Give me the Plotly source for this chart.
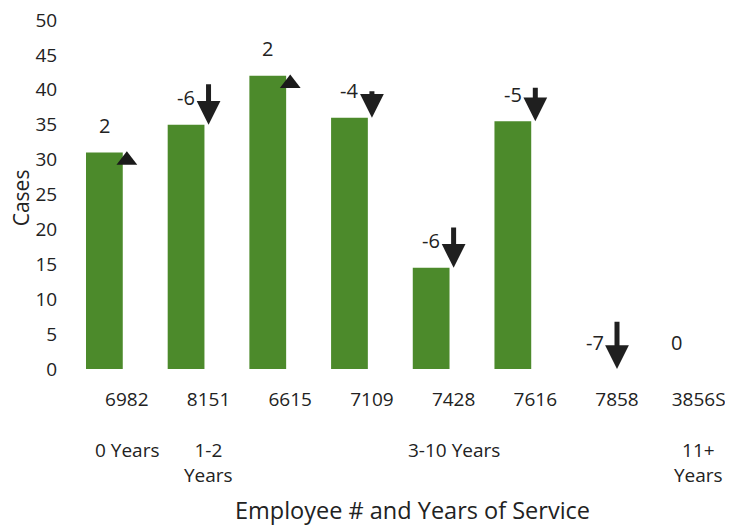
import plotly.graph_objects as go

employees = ["6982", "8151", "6615", "7109", "7428", "7616", "7858", "3856S"]
cases = [31, 35, 42, 36, 14.5, 35.5, 0, 0]
change = [2, -6, 2, -4, -6, -5, -7, 0]
groups = ["0 Years", "1-2<br>Years", "3-10 Years", "11+<br>Years"]
group_first = [0, 1, 2, 7]
group_last = [0, 1, 6, 7]

FONT = "Open Sans"
TXT = "#222222"
GREEN = "#4c8a2b"
BAR_W = 0.45
BAR_OFF = -0.5

idx = list(range(len(employees)))

fig = go.Figure()
fig.add_trace(go.Bar(
    x=idx, y=cases, width=BAR_W, offset=BAR_OFF,
    marker=dict(color=GREEN, line=dict(width=0)),
    hoverinfo="skip",
))

# up triangles for positive changes
up_x = [i for i, c in zip(idx, change) if c > 0]
up_y = [cases[i] - 1.1 for i in up_x]
fig.add_trace(go.Scatter(
    x=up_x, y=up_y, mode="markers",
    marker=dict(symbol="triangle-up", size=18, color="#1a1a1a"),
    hoverinfo="skip", cliponaxis=False,
))

annotations = []
for i, (v, c) in enumerate(zip(cases, change)):
    annotations.append(dict(
        x=i + BAR_OFF + BAR_W / 2, y=v, xref="x", yref="y",
        text=str(c), showarrow=False, yshift=27,
        font=dict(family=FONT, size=20, color=TXT),
    ))
    if c < 0:
        annotations.append(dict(
            x=i, y=v, xref="x", yref="y",
            ax=i, ay=v - c, axref="x", ayref="y",
            text="", showarrow=True, arrowhead=2, arrowsize=0.95,
            arrowwidth=5, arrowcolor="#1f1f1f", standoff=0, startstandoff=0,
        ))

for g, a, b in zip(groups, group_first, group_last):
    annotations.append(dict(
        x=(a + b) / 2, y=-0.188, xref="x", yref="paper",
        text=g, showarrow=False, yanchor="top", xanchor="center",
        font=dict(family=FONT, size=19, color=TXT),
    ))

annotations.append(dict(
    x=0.5, y=-0.405, xref="paper", yref="paper",
    text="Employee # and Years of Service", showarrow=False,
    yanchor="middle", xanchor="center", xshift=3,
    font=dict(family=FONT, size=23.5, color=TXT),
))
annotations.append(dict(
    x=-0.1, y=0.49, xref="paper", yref="paper",
    text="Cases", showarrow=False, textangle=-90,
    xanchor="center", yanchor="middle",
    font=dict(family=FONT, size=21, color=TXT),
))

# the page body adds an 8px offset, so the figure is drawn 8px smaller
fig.update_layout(
    width=725, height=519,
    margin=dict(l=78, r=0, t=12, b=158),
    paper_bgcolor="white", plot_bgcolor="white",
    showlegend=False,
    annotations=annotations,
    font=dict(family=FONT, size=19, color=TXT),
)
fig.update_xaxes(
    range=[-0.5, 7.42], tickvals=idx, ticktext=employees,
    showgrid=False, zeroline=False, showline=False, automargin=False,
    ticks="outside", ticklen=13, tickcolor="rgba(0,0,0,0)",
    ticklabeloverflow="allow",
    tickfont=dict(family=FONT, size=19, color=TXT),
)
fig.update_yaxes(
    range=[0, 50], dtick=5, showgrid=False, zeroline=False, showline=False,
    automargin=False, ticklabeloverflow="allow",
    ticks="outside", ticklen=24, tickcolor="rgba(0,0,0,0)",
    tickfont=dict(family=FONT, size=19, color=TXT),
)

fig.write_html("out.html")
